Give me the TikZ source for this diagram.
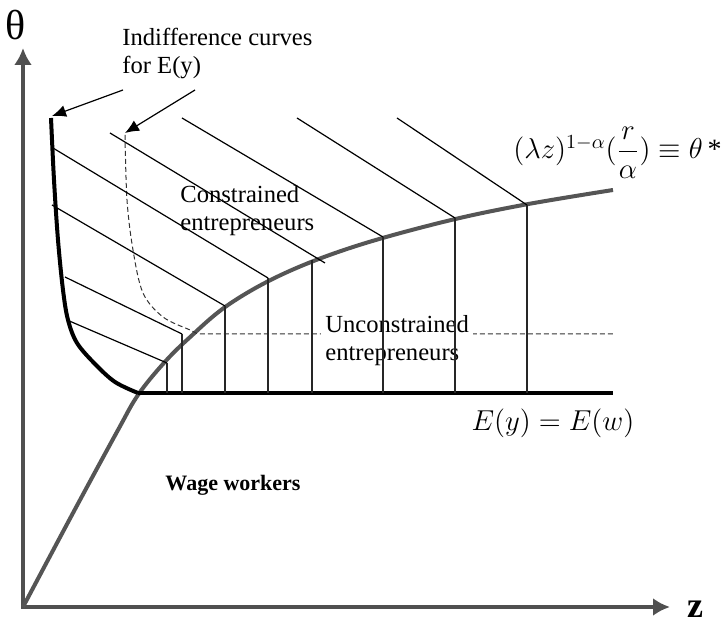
\documentclass[tikz,border=0pt]{standalone}
\usepackage{fontspec}
\setmainfont{Liberation Serif}
\usetikzlibrary{arrows.meta}
\definecolor{axisgray}{HTML}{505050}
\definecolor{curvegray}{HTML}{555555}
\tikzset{>=Latex,
  axis/.style={{Latex[length=8.5pt,width=9pt]}-{Latex[length=8.5pt,width=9pt]},draw=axisgray,line width=1.8pt},
  thetacurve/.style={draw=curvegray,line width=2pt},
  boundary/.style={draw=black,line width=2pt},
  indiff/.style={draw=black,line width=.6pt},
  drop/.style={draw=black!85,line width=.6pt},
  guide/.style={draw=black!80,dash pattern=on 2.5pt off 1.5pt,line width=.5pt},
  pointer/.style={-{Latex[length=7pt,width=6pt]},line width=.6pt},
  txt/.style={font=\fontsize{12.3}{14}\selectfont,align=left,inner sep=0pt},
  eqn/.style={font=\fontsize{14}{16}\selectfont,inner sep=0pt}}

\begin{document}
\begin{tikzpicture}[x=0.5pt,y=0.5pt]
\path[use as bounding box] (0,0) rectangle (723,626);
\coordinate (O) at (23,19);\coordinate (thetaTip) at (23,578);\coordinate (zTip) at (670,19);
\draw[axis] (thetaTip)--(O)--(zTip);
\node[font=\fontsize{21}{23}\selectfont] (thetalab) at (16,601) {θ};
\node[font=\bfseries\fontsize{18}{20}\selectfont] (zlab) at (695,17) {z};
% theta* threshold and the E(y)=E(w) floor
\draw[thetacurve] plot[smooth,tension=.6] coordinates {(23,19) (73,113) (118,196) (138,231) (163,262)
  (188,287) (228,321) (283,352) (353,379) (443,404) (523,421) (613,436)};
\coordinate (kink) at (138,233);\coordinate (flatEnd) at (613,233);
\draw[boundary] (kink)--(flatEnd);
\draw[boundary] plot[smooth,tension=.55] coordinates {(51,508) (54,446) (58,386) (63,336) (68,306) (77,283)
  (95,262) (115,244) (138,233)};
\draw[guide] plot[smooth,tension=.55] coordinates {(125,491) (127,426) (133,376) (143,333) (163,309) (190,296)
  (198,292)} -- (613,292);
\node[txt,anchor=west,fill=white,inner xsep=2pt] (unconstr) at (321,285) {Unconstrained\\entrepreneurs};
\foreach \xa/\ya/\xb/\yb/\xv/\yv in {67/306/167/263/167/263, 65/349/182/292/182/292, 52/421/225/320/225/320,
  53/478/268/348/268/348, 110/493/325/363/312/366, 182/508/383/389/383/389, 297/508/455/408/455/408,
  397/508/527/421/527/421}
  {\draw[indiff] (\xa,\ya)--(\xb,\yb);\draw[drop] (\xv,\yv)--(\xv,233);}
\node[txt,anchor=west] (ictext) at (122,572) {Indifference curves\\for E(y)};
\node[txt,anchor=west] (constr) at (180,415) {Constrained\\entrepreneurs};
\node[font=\bfseries\fontsize{11}{13}\selectfont] (wage) at (233,141) {Wage workers};
\node[eqn] (flatlab) at (553,203) {$E(y)=E(w)$};
\node[eqn,anchor=base east] (thetastar) at (722,467) {$(\lambda z)^{1-\alpha}({\displaystyle\frac{r}{\alpha}})\equiv\theta\,$\textrm{*}};
\coordinate (icTop) at (52,510);\coordinate (dashTop) at (125,493);
\coordinate (icFrom) at (123,536);\coordinate (dashFrom) at (195,536);
\draw[pointer] (icFrom)--(icTop);
\draw[pointer] (dashFrom)--(dashTop);
\end{tikzpicture}
\end{document}
